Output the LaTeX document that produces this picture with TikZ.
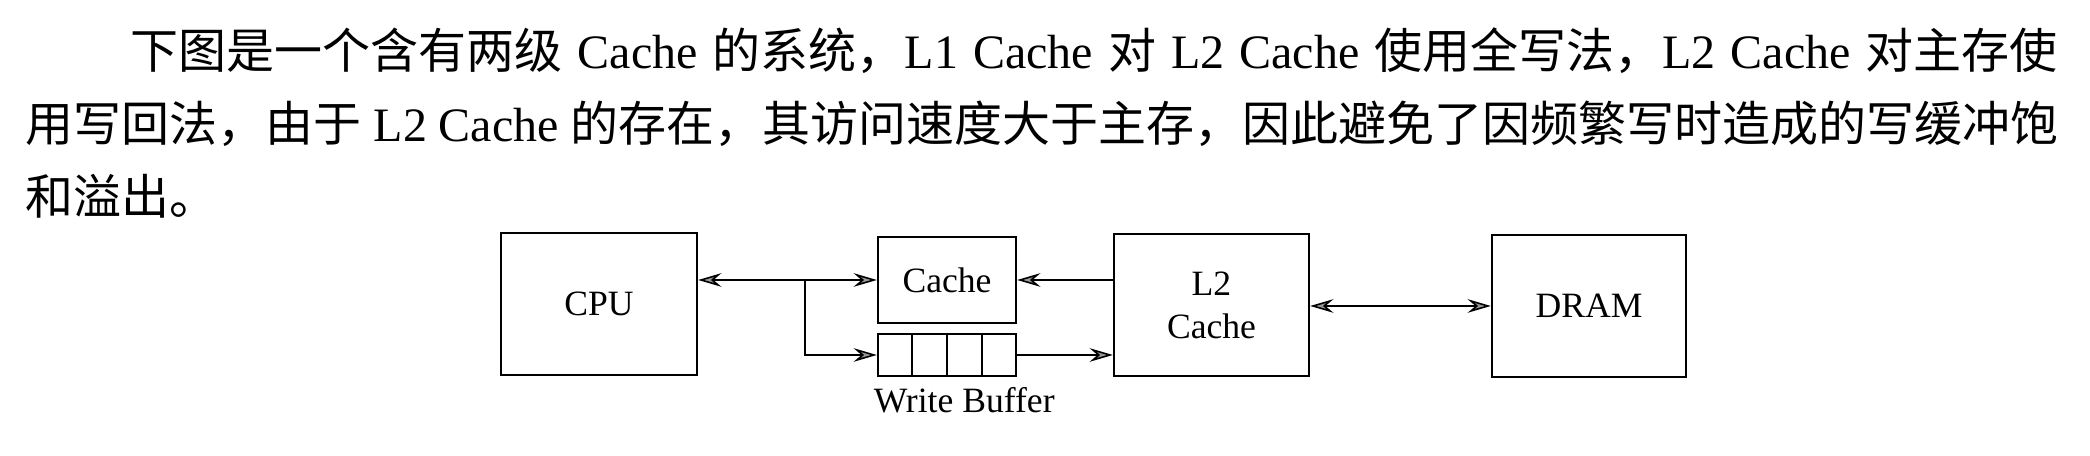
\documentclass[tikz,border=0pt]{standalone}
\usepackage{fontspec}
\setmainfont{Liberation Serif}
\newfontfamily\cjk{Noto Sans CJK SC}
\usetikzlibrary{arrows.meta,calc}

\definecolor{tipgray}{rgb}{0.6,0.6,0.6}

\begin{document}
\begin{tikzpicture}[x=0.25pt, y=-0.25pt,
                box/.style={draw, line width=0.6pt, inner sep=0pt, font=\fontsize{8.9}{10.75}\selectfont},
                para/.style={anchor=base west, inner sep=0pt, font=\fontsize{12}{18.25}\selectfont},
                arr/.style={line width=0.5pt, -{Stealth[length=5.8pt, width=3.4pt, inset=2pt, fill=tipgray, line width=0.4pt]}},
                dbl/.style={line width=0.5pt, {Stealth[length=5.8pt, width=3.4pt, inset=2pt, fill=tipgray, line width=0.4pt]}-{Stealth[length=5.8pt, width=3.4pt, inset=2pt, fill=tipgray, line width=0.4pt]}}]
                \useasboundingbox (0,0) rectangle (2090,456);
                % text above
                \node[para] (line1) at (130,69) {\makebox[481.75pt][s]{{\cjk 下图是一个含有两级} Cache {\cjk 的系统，}L1 Cache {\cjk 对} L2 Cache {\cjk 使用全写法，}L2 Cache {\cjk 对主存使}}};
                \node[para] (line2) at (25,142) {\makebox[508.25pt][s]{{\cjk 用写回法，由于} L2 Cache {\cjk 的存在，其访问速度大于主存，因此避免了因频繁写时造成的写缓冲饱}}};
                \node[para] (line3) at (25,215) {\cjk 和溢出。};
                % boxes
                \node[box, minimum width=49pt, minimum height=35.5pt] (cpu) at (599,304) {CPU};
                \node[box, minimum width=34.5pt, minimum height=21.5pt] (l1) at (947,280) {Cache};
                \node[box, minimum width=34.5pt, minimum height=10.5pt] (buf) at (947,355) {};
                \node[box, minimum width=48.75pt, minimum height=35.5pt, align=center] (l2) at (1211.5,305) {L2\\Cache};
                \node[box, minimum width=48.5pt, minimum height=35.5pt] (dram) at (1589,306) {DRAM};
                \node[anchor=base west, inner sep=0pt, font=\fontsize{8.9}{10.75}\selectfont] (wblabel) at (873,413) {Write Buffer};
                % buffer cells
                \foreach \i in {1,2,3}
                    \draw[line width=0.6pt] ($(buf.north west)!\i/4!(buf.north east)$) -- ($(buf.south west)!\i/4!(buf.south east)$);
                % connections
                \coordinate (split) at (805,280);
                \draw[dbl] (cpu.east |- l1.west) -- (l1.west);
                \draw[arr] (split) |- (buf.west);
                \draw[arr] (l2.west |- l1.east) -- (l1.east);
                \draw[arr] (buf.east) -- (buf.east -| l2.west);
                \draw[dbl] (l2.east |- dram.west) -- (dram.west);
            \end{tikzpicture}
\end{document}
